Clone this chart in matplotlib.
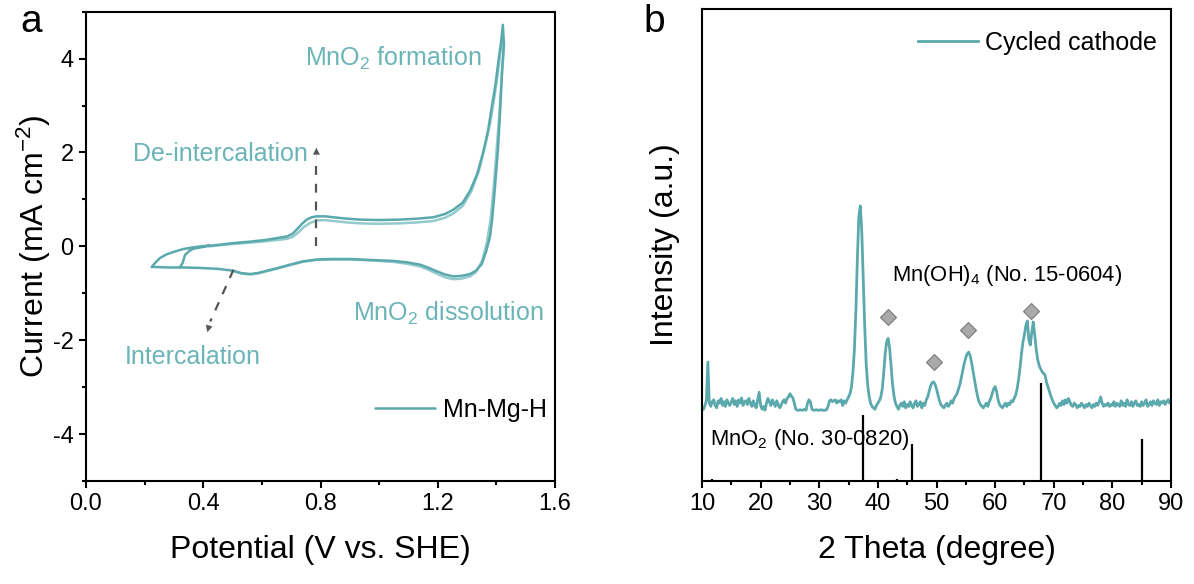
import numpy as np
import matplotlib
matplotlib.use("Agg")
import matplotlib.pyplot as plt
from matplotlib.ticker import MultipleLocator

plt.rcParams['font.family'] = ['Liberation Sans', 'DejaVu Sans']
plt.rcParams['mathtext.fontset'] = 'custom'
plt.rcParams['mathtext.rm'] = 'Liberation Sans'
plt.rcParams['mathtext.it'] = 'Liberation Sans:italic'
plt.rcParams['mathtext.bf'] = 'Liberation Sans:bold'

# ---------------- Panel a: CV data ----------------
# cycle 1 (dark): start at OCV, anodic sweep, cathodic return, tip, back up
cv1_potential = [0.321, 0.330, 0.338, 0.352, 0.366, 0.420, 0.503, 0.560, 0.617, 0.685,
                 0.705, 0.719, 0.737, 0.753, 0.770, 0.787, 0.815, 0.844, 0.890, 0.935,
                 1.000, 1.071, 1.130, 1.185, 1.225, 1.253, 1.285, 1.310, 1.335, 1.356,
                 1.372, 1.384, 1.397, 1.407, 1.416, 1.422,
                 1.426, 1.420, 1.413, 1.405, 1.395, 1.386, 1.378, 1.365, 1.350, 1.330,
                 1.310, 1.280, 1.253, 1.225, 1.196, 1.170, 1.140, 1.095, 1.048, 0.970,
                 0.901, 0.840, 0.787, 0.740, 0.696, 0.655, 0.617, 0.585, 0.560, 0.530,
                 0.503, 0.450, 0.389, 0.330, 0.275, 0.240, 0.224,
                 0.235, 0.252, 0.275, 0.298, 0.330, 0.366, 0.420]
cv1_current = [-0.44, -0.35, -0.18, -0.10, -0.05, 0.01, 0.07, 0.10, 0.14, 0.21,
               0.27, 0.36, 0.48, 0.57, 0.62, 0.64, 0.64, 0.62, 0.59, 0.57,
               0.56, 0.57, 0.59, 0.62, 0.69, 0.78, 0.93, 1.18, 1.55, 2.03,
               2.48, 2.96, 3.45, 3.95, 4.35, 4.72,
               4.30, 3.81, 2.90, 2.03, 1.25, 0.60, 0.20, -0.11, -0.38, -0.52,
               -0.59, -0.63, -0.64, -0.60, -0.53, -0.46, -0.39, -0.34, -0.31, -0.29,
               -0.27, -0.27, -0.28, -0.32, -0.39, -0.46, -0.52, -0.57, -0.59, -0.57,
               -0.52, -0.48, -0.46, -0.45, -0.45, -0.44, -0.44,
               -0.36, -0.25, -0.17, -0.12, -0.06, -0.02, 0.02]

# cycle 2 (light): second scan, slightly lower on both branches
cv2_potential = [0.420, 0.503, 0.560, 0.617, 0.685, 0.705, 0.725, 0.745, 0.765, 0.787,
                 0.815, 0.844, 0.890, 0.935, 1.000, 1.071, 1.130, 1.185, 1.225, 1.253,
                 1.285, 1.315, 1.340, 1.360, 1.378, 1.390, 1.402, 1.412, 1.420,
                 1.424, 1.418, 1.410, 1.400, 1.390, 1.380, 1.368, 1.352, 1.330, 1.310,
                 1.280, 1.253, 1.225, 1.196, 1.165, 1.140, 1.095, 1.048, 0.970, 0.901,
                 0.840, 0.787, 0.740, 0.696, 0.655, 0.617, 0.585, 0.560, 0.530, 0.503]
cv2_current = [0.00, 0.05, 0.08, 0.11, 0.16, 0.20, 0.30, 0.42, 0.50, 0.55,
               0.56, 0.54, 0.51, 0.49, 0.48, 0.49, 0.51, 0.54, 0.61, 0.70,
               0.86, 1.18, 1.60, 2.10, 2.60, 3.05, 3.55, 4.05, 4.45,
               4.10, 3.60, 2.80, 2.00, 1.20, 0.55, 0.10, -0.30, -0.55, -0.64,
               -0.69, -0.70, -0.66, -0.58, -0.49, -0.43, -0.37, -0.33, -0.30, -0.28,
               -0.28, -0.29, -0.33, -0.40, -0.47, -0.53, -0.58, -0.60, -0.58, -0.53]

# ---------------- Panel b: XRD data (0.25 degree steps) ----------------
xrd_start, xrd_step = 10.0, 0.25
xrd_intensity = [
    150, 152, 160, 170, 252, 165, 158, 168, 172, 160, 155, 170, 165, 175, 160, 168, 158, 172, 165, 160,  # 10-14.75
    168, 175, 162, 170, 158, 172, 165, 176, 160, 168, 170, 162, 175, 165, 158, 170, 160, 155, 172, 188,  # 15-19.75
    160, 152, 158, 150, 165, 175, 168, 160, 172, 165, 158, 170, 162, 155, 160, 168, 172, 165, 175, 178,  # 20-24.75
    185, 180, 176, 165, 152, 150, 150, 151, 150, 150, 152, 150, 165, 172, 168, 152, 150, 150, 151, 150,  # 25-29.75
    150, 151, 150, 150, 150, 151, 158, 170, 172, 168, 170, 172, 165, 170, 168, 172, 160, 170, 165, 172,  # 30-34.75
    178, 185, 200, 230, 280, 360, 470, 560, 583, 530, 430, 330, 250, 205, 180, 165, 158, 155, 152, 160,  # 35-39.75
    165, 170, 178, 195, 230, 270, 295, 302, 282, 245, 205, 180, 165, 158, 152, 160, 165, 158, 168, 155,  # 40-44.75
    162, 158, 168, 160, 155, 165, 170, 158, 162, 168, 155, 165, 160, 172, 178, 190, 202, 208, 210, 205,  # 45-49.75
    195, 182, 170, 162, 158, 155, 160, 165, 158, 162, 170, 165, 175, 180, 185, 195, 205, 220, 235, 250,  # 50-54.75
    262, 270, 273, 265, 250, 232, 215, 195, 180, 168, 162, 158, 155, 160, 165, 158, 168, 175, 185, 195,  # 55-59.75
    200, 190, 172, 162, 158, 155, 160, 165, 158, 165, 162, 170, 168, 175, 182, 195, 215, 240, 270, 295,  # 60-64.75
    310, 330, 339, 300, 288, 315, 337, 310, 280, 258, 245, 238, 232, 228, 225, 210, 200, 190, 180, 172,  # 65-69.75
    165, 160, 155, 158, 165, 160, 170, 162, 172, 165, 175, 168, 160, 158, 165, 162, 155, 160, 158, 165,  # 70-74.75
    160, 155, 162, 158, 165, 160, 155, 162, 158, 165, 160, 168, 178, 165, 158, 162, 160, 165, 158, 162,  # 75-79.75
    160, 168, 158, 165, 162, 158, 170, 160, 165, 158, 172, 162, 160, 168, 158, 165, 170, 160, 162, 158,  # 80-84.75
    168, 160, 165, 172, 158, 162, 168, 160, 170, 165, 162, 172, 160, 168, 165, 170, 162, 168, 172, 165,  # 85-89.75
    175,                                                                                                # 90
]
xrd_theta = xrd_start + xrd_step * np.arange(len(xrd_intensity))

# MnO2 reference (No. 30-0820) stick pattern
ref_theta = [11.7, 37.4, 43.2, 45.9, 67.8, 85.1]
ref_height = [4, 140, 4, 78, 207, 89]

# Mn(OH)4 marker positions
mark_theta = [41.7, 49.5, 55.4, 66.1]
mark_height = [347, 252, 319, 360]

# ---------------- styling ----------------
DARK = '#5BA9AD'
LIGHT = '#93CBCD'
TXT = '#6BB4B7'
GRAY = '#555555'

fig = plt.figure(figsize=(11.94, 5.84), dpi=100)
W, H = 1194, 584
axa = fig.add_axes([86 / W, (H - 481) / H, (555 - 86) / W, (481 - 11.7) / H])
axb = fig.add_axes([702 / W, (H - 481) / H, (1171 - 702) / W, (481 - 9) / H])

for ax in (axa, axb):
    for s in ax.spines.values():
        s.set_linewidth(1.5)
    ax.tick_params(which='major', direction='out', length=5, width=1.5, labelsize=17,
                   top=False, right=False, pad=4)
    ax.tick_params(which='minor', direction='out', length=3, width=1.5,
                   top=False, right=False)

# Panel a
axa.plot(cv2_potential, cv2_current, color=LIGHT, lw=1.8, solid_capstyle='round')
axa.plot(cv1_potential, cv1_current, color=DARK, lw=1.8, label='Mn-Mg-H',
         solid_capstyle='round')
axa.set_xlim(0, 1.6)
axa.set_ylim(-5, 5)
axa.xaxis.set_minor_locator(MultipleLocator(0.2))
axa.yaxis.set_minor_locator(MultipleLocator(1))
axa.set_xticks([0.0, 0.4, 0.8, 1.2, 1.6])
axa.set_xticklabels(['0.0', '0.4', '0.8', '1.2', '1.6'])
axa.set_yticks([-4, -2, 0, 2, 4])
axa.set_yticklabels(['-4', '-2', '0', '2', '4'])
axa.set_xlabel('Potential (V vs. SHE)', fontsize=23, labelpad=14)
axa.set_ylabel('Current (mA cm$^{-2}$)', fontsize=23, labelpad=0)

# dashed arrows
axa.plot([0.786, 0.786], [0.0, 1.85], color=GRAY, lw=1.6, dashes=(4, 4))
axa.annotate('', xy=(0.786, 2.10), xytext=(0.786, 1.80),
             arrowprops=dict(arrowstyle='-|>', color=GRAY, lw=0.1, mutation_scale=12,
                             shrinkA=0, shrinkB=0))
axa.plot([0.503, 0.424], [-0.50, -1.60], color=GRAY, lw=1.6, dashes=(4, 4))
axa.annotate('', xy=(0.414, -1.83), xytext=(0.425, -1.58),
             arrowprops=dict(arrowstyle='-|>', color=GRAY, lw=0.1, mutation_scale=12,
                             shrinkA=0, shrinkB=0))

axa.text(0.747, 4.0, 'MnO$_2$ formation', color=TXT, fontsize=18, ha='left', va='center')
axa.text(0.758, 1.96, 'De-intercalation', color=TXT, fontsize=18, ha='right', va='center')
axa.text(0.133, -2.35, 'Intercalation', color=TXT, fontsize=18, ha='left', va='center')
axa.text(0.912, -1.42, 'MnO$_2$ dissolution', color=TXT, fontsize=18, ha='left', va='center')

axa.legend(loc='center right', bbox_to_anchor=(0.982, 0.151), frameon=False,
           fontsize=18, handlelength=2.4, handletextpad=0.3, borderpad=0,
           borderaxespad=0)

# Panel b
axb.plot(xrd_theta, xrd_intensity, color=DARK, lw=2.0, label='Cycled cathode')
axb.vlines(ref_theta, 0, ref_height, color='black', lw=1.6)
axb.plot(mark_theta, mark_height, linestyle='none', marker='D', markersize=8.5,
         markerfacecolor='#A9A9A9', markeredgecolor='#7A7A7A', markeredgewidth=0.8)
axb.set_xlim(10, 90)
axb.set_ylim(0, 1000)
axb.xaxis.set_major_locator(MultipleLocator(10))
axb.xaxis.set_minor_locator(MultipleLocator(5))
axb.set_yticks([])
axb.set_xlabel('2 Theta (degree)', fontsize=23, labelpad=14)
axb.set_ylabel('Intensity (a.u.)', fontsize=23, labelpad=16)
axb.text(42.35, 435, 'Mn(OH)$_4$ (No. 15-0604)', fontsize=15.8, ha='left', va='center')
axb.text(11.3, 87, 'MnO$_2$ (No. 30-0820)', fontsize=15.8, ha='left', va='center')
axb.legend(loc='center right', bbox_to_anchor=(0.97, 0.928), frameon=False,
           fontsize=18, handlelength=2.4, handletextpad=0.3, borderpad=0,
           borderaxespad=0)

fig.text(20 / W, 1 - 22 / H, 'a', fontsize=28, ha='left', va='center')
fig.text(643 / W, 1 - 22 / H, 'b', fontsize=28, ha='left', va='center')

fig.savefig('out.png', dpi=100)
